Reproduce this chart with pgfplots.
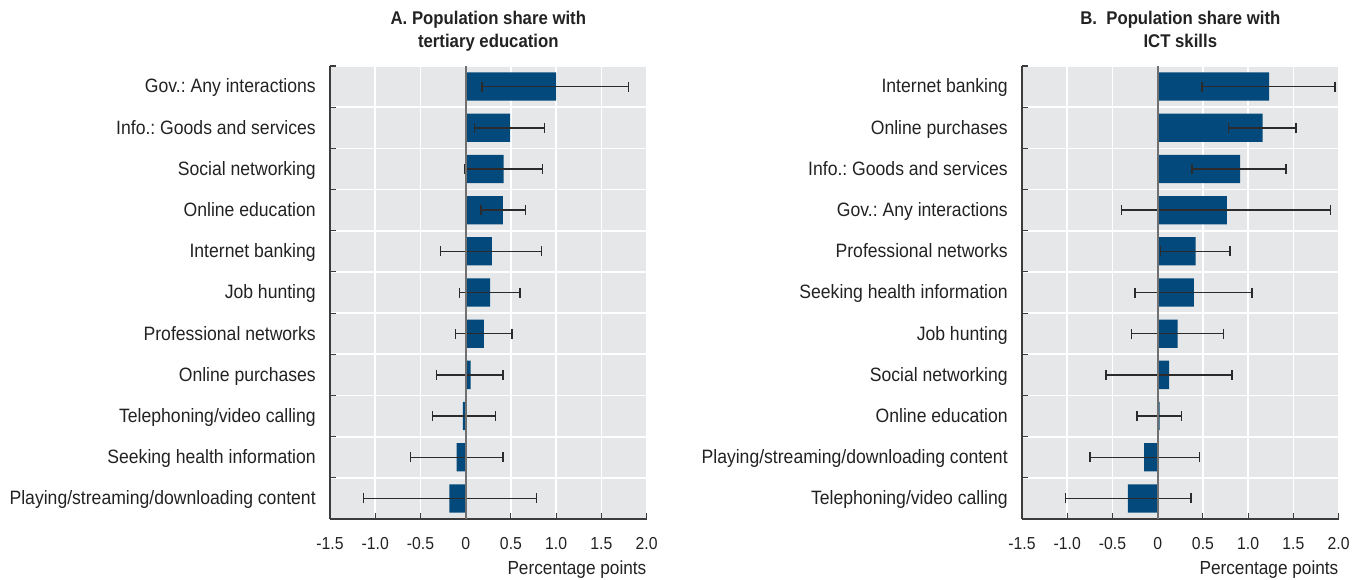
\documentclass[border=0pt]{standalone}
\usepackage{fontspec}
\setmainfont{Liberation Sans}[FakeStretch=0.91]
\usepackage{pgfplots}
\usepackage{pgfplotstable}
\pgfplotsset{compat=1.18}
\frenchspacing

\definecolor{barblue}{RGB}{4,73,123}
\definecolor{bggrey}{RGB}{230,231,233}
\definecolor{axisdark}{RGB}{60,60,60}
\definecolor{zerogrey}{RGB}{112,112,112}
\definecolor{errcol}{RGB}{43,43,43}
\definecolor{txtcol}{RGB}{34,34,34}

\newcommand\labfont{\fontsize{14.5pt}{17pt}\selectfont}
\newcommand\tickfont{\fontsize{13pt}{15pt}\selectfont}
\newcommand\xlabfont{\fontsize{14.2pt}{17pt}\selectfont}
\newcommand\titfont{\fontsize{13.8pt}{17.25pt}\selectfont\bfseries}

% Panel A: tertiary education
\pgfplotstableread{
y val lo hi
0 1.00 0.18 1.80
1 0.49 0.10 0.87
2 0.42 -0.01 0.85
3 0.41 0.17 0.66
4 0.29 -0.28 0.84
5 0.27 -0.07 0.60
6 0.20 -0.11 0.51
7 0.055 -0.32 0.41
8 -0.03 -0.37 0.33
9 -0.10 -0.61 0.41
10 -0.18 -1.13 0.78
}\tabA

% Panel B: ICT skills
\pgfplotstableread{
y val lo hi
0 1.23 0.49 1.96
1 1.16 0.78 1.53
2 0.91 0.38 1.42
3 0.765 -0.40 1.91
4 0.42 0.03 0.80
5 0.40 -0.25 1.04
6 0.22 -0.29 0.73
7 0.125 -0.57 0.82
8 0.02 -0.23 0.26
9 -0.15 -0.75 0.46
10 -0.33 -1.02 0.37
}\tabB

\pgfplotsset{
  panel/.style={
    scale only axis, width=237.5pt, height=339.75pt,
    xmin=-1.5, xmax=2, ymin=-0.5, ymax=10.5, y dir=reverse,
    axis background/.style={fill=bggrey},
    axis x line*=bottom, axis y line*=left,
    axis line style={-, draw=axisdark, line width=1pt},
    xtick={-1.5,-1,-0.5,0,0.5,1,1.5,2},
    xticklabels={-1.5,-1.0,-0.5,0,0.5,1.0,1.5,2.0},
    ytick={-0.5,0.5,...,10.5}, yticklabels={},
    tick align=inside, major tick length=4.5pt,
    tick style={draw=axisdark, line width=0.8pt},
    grid=major, major grid style={white, line width=1.3pt},
    extra y ticks={0,1,...,10},
    extra y tick style={major tick length=0pt, grid=none, tick style={draw=none}},
    yticklabel style={font=\labfont, text=txtcol, inner sep=0pt, anchor=base east, xshift=-10.5pt, yshift=-4.8pt},
    xticklabel style={font=\tickfont, text=txtcol, inner sep=0pt, anchor=base, yshift=-22.5pt},
    xlabel={Percentage points},
    xlabel style={font=\xlabfont, text=txtcol, inner sep=0pt, at={(1,0)}, anchor=base east, yshift=-41.25pt},
    title style={font=\titfont, text=txtcol, align=center, inner sep=0pt, text depth=0pt, at={(0.5,1)}, anchor=south, yshift=7.5pt},
  },
  barplot/.style={
    xbar, bar width=21.2pt, bar shift=0pt, fill=barblue, draw=none,
    error bars/.cd, x dir=both, x explicit, error mark=|,
    error mark options={errcol, line width=1.1pt, mark size=3.75pt},
    error bar style={errcol, line width=1.1pt},
  },
}

\begin{document}
\begin{tikzpicture}

\begin{axis}[panel, at={(247.5pt,45pt)}, anchor=south west,
  title={A. Population share with\\tertiary education},
  extra y tick labels={{Gov.: Any interactions},{Info.: Goods and services},{Social networking},{Online education},{Internet banking},{Job hunting},{Professional networks},{Online purchases},{Telephoning/video calling},{Seeking health information},{Playing/streaming/downloading content}}]
\addplot[barplot] table[x=val, y=y, x error plus expr=\thisrow{hi}-\thisrow{val}, x error minus expr=\thisrow{val}-\thisrow{lo}] {\tabA};
\draw[zerogrey, line width=1.2pt] (axis cs:0,-0.5) -- (axis cs:0,10.5);
\end{axis}

\begin{axis}[panel, at={(766.5pt,45pt)}, anchor=south west,
  title={B.\ \ Population share with\\ICT skills},
  extra y tick labels={{Internet banking},{Online purchases},{Info.: Goods and services},{Gov.: Any interactions},{Professional networks},{Seeking health information},{Job hunting},{Social networking},{Online education},{Playing/streaming/downloading content},{Telephoning/video calling}}]
\addplot[barplot] table[x=val, y=y, x error plus expr=\thisrow{hi}-\thisrow{val}, x error minus expr=\thisrow{val}-\thisrow{lo}] {\tabB};
\draw[zerogrey, line width=1.2pt] (axis cs:0,-0.5) -- (axis cs:0,10.5);
\end{axis}

\pgfresetboundingbox
\path[use as bounding box] (0,0) rectangle (1015.5pt,434.25pt);
\end{tikzpicture}
\end{document}
